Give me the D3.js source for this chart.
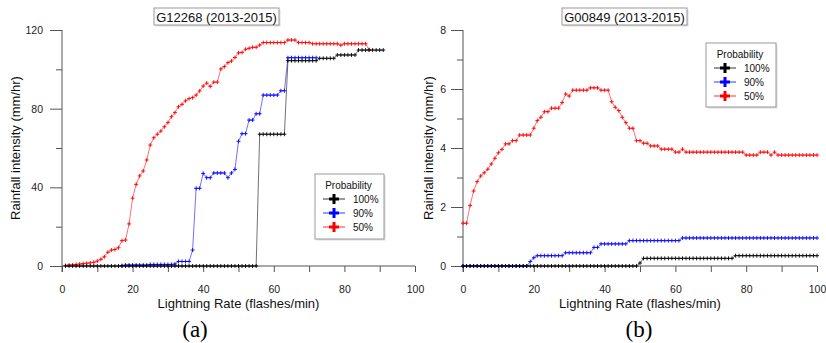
<!DOCTYPE html>
<html><head><meta charset="utf-8">
<script src="https://cdn.jsdelivr.net/npm/d3@7/dist/d3.min.js"></script>
<style>body{margin:0;background:#fff} svg{display:block}</style>
</head><body>
<svg id="c" width="826" height="343"></svg>
<script>
// ---------- DATA ----------
const seriesNames = ["100%", "90%", "50%"];
const seriesColors = ["#000000", "#0000ff", "#ff0000"];

// Panel (a): G12268 (2013-2015)  -- x = lightning rate (start + index)
const titleA = "G12268 (2013-2015)";
const a100Start = 1;
const a100 = [0,0,0,0,0,0,0,0,0,0, 0,0,0,0,0,0,0,0,0,0, 0,0,0,0,0,0,0,0,0,0,
  0,0,0,0,0,0,0,0,0,0, 0,0,0,0,0,0,0,0,0,0, 0,0,0,0,0,
  67,67,67,67,67,67,67,67,
  104.4,104.4,104.4,104.4,104.4,104.4,104.4,104.4,104.4,
  105.6,105.6,105.6,105.6,105.6,
  107.3,107.3,107.3,107.3,107.3,107.3,
  109.8,109.8,109.8,109.8,109.8,109.8,109.8,109.8];
const a90Start = 17;
const a90 = [0.2, 0.5,0.5,0.5,0.5,0.5,0.5,0.5, 0.8,0.8,0.8,0.8,0.8,0.8,0.8, 1.0,
  2.3,2.3,2.3,2.3, 8.1, 39.5,39.5, 47.1,44.9,44.9,47.3,47.3,47.3,47.3,44.9,47.3,49.1,
  63.4,67.3,67.3,74.2,74.2,77.4,77.4, 86.9,86.9,86.9,86.9,86.9, 89.1,89.1,
  105.9,105.9,105.9,105.9,105.9,105.9,105.9,105.9,105.9];
const a50Start = 1;
const a50 = [0.3,0.5,0.6,0.8,1.0,1.2,1.4,1.6,1.9,2.5,
  3.4,4.7,7.0,8.1,8.4,9.3,12.9,13.2,21.4,34.5,
  41.5,45.8,48.3,53.9,61.5,65.2,67.0,68.6,70.8,72.9,
  75.9,78.0,81.0,82.2,84.0,85.1,85.6,86.9,89.0,91.5,
  93.0,91.3,93.5,93.5,100.2,101.4,103.4,104.2,106.0,108.4,
  108.6,110.2,110.7,111.2,111.2,112.3,113.6,113.6,113.6,113.6,
  113.6,113.6,113.6,114.9,114.9,114.9,113.6,113.6,113.6,113.6,
  113.0,113.0,113.0,113.0,113.0,113.0,113.0,113.0,112.3,113.0,
  113.0,113.0,113.0,113.0,113.0,113.0,110.0];
const aXTicks = [0,20,40,60,80,100];
const aXMinor = [10,30,50,70,90];
const aYTicks = [0,40,80,120];
const aYMinor = [20,60,100];

// Panel (b): G00849 (2013-2015)
const titleB = "G00849 (2013-2015)";
const b100Start = 0;
const b100 = [0,0,0,0,0,0,0,0,0,0, 0,0,0,0,0,0,0,0,0,0, 0,0,0,0,0,0,0,0,0,0,
  0,0,0,0,0,0,0,0,0,0, 0,0,0,0,0,0,0,0,0,0,
  0.1,
  0.26,0.26,0.26,0.26,0.26,0.26,0.26,0.26,0.26,0.26,0.26,0.26,0.26,
  0.26,0.26,0.26,0.26,0.26,0.26,0.26,0.26,0.26,0.26,0.26,0.26,0.26,
  0.35,0.35,0.35,0.35,0.35,0.35,0.35,0.35,0.35,0.35,0.35,0.35,
  0.35,0.35,0.35,0.35,0.35,0.35,0.35,0.35,0.35,0.35,0.35,0.35];
const b90Start = 0;
const b90 = [0,0,0,0,0,0,0,0,0,0, 0,0,0,0,0,0,0,0,0,
  0.15, 0.28,
  0.35,0.35,0.35,0.35,0.35,0.35,0.35,0.35,
  0.45,0.45,0.45,0.45,0.45,0.45,0.45,0.45,
  0.63,0.63,
  0.75,0.75,0.75,0.75,0.75,0.75,0.75,0.75,
  0.86,0.86,0.86,0.86,0.86,0.86,0.86,0.86,0.86,0.86,0.86,0.86,0.86,0.86,0.86,
  0.95,0.95,0.95,0.95,0.95,0.95,0.95,0.95,0.95,0.95,0.95,0.95,0.95,
  0.95,0.95,0.95,0.95,0.95,0.95,0.95,0.95,0.95,0.95,0.95,0.95,0.95,
  0.95,0.95,0.95,0.95,0.95,0.95,0.95,0.95,0.95,0.95,0.95,0.95,0.95];
const b50Start = 0;
const b50 = [1.45,1.45,2.05,2.54,2.86,3.05,3.16,3.28,3.46,3.65,
  3.84,3.95,4.14,4.14,4.25,4.25,4.44,4.44,4.44,4.44,
  4.67,4.93,5.04,5.23,5.23,5.35,5.35,5.35,5.54,5.83,
  5.76,5.96,5.96,5.96,5.96,5.96,6.04,6.04,6.04,5.96,
  5.96,5.96,5.57,5.38,5.27,5.04,4.86,4.67,4.67,4.25,
  4.25,4.16,4.16,4.07,4.07,4.07,3.96,3.96,3.96,3.96,
  3.86,3.86,3.96,3.86,3.86,3.86,3.86,3.86,3.86,3.86,
  3.86,3.86,3.86,3.86,3.86,3.86,3.86,3.86,3.86,3.86,
  3.76,3.76,3.76,3.76,3.86,3.86,3.86,3.76,3.86,3.76,
  3.76,3.76,3.76,3.76,3.76,3.76,3.76,3.76,3.76,3.76,3.76];
const bXTicks = [0,20,40,60,80,100];
const bXMinor = [10,30,50,70,90];
const bYTicks = [0,2,4,6,8];
const bYMinor = [1,3,5,7];

const xLabel = "Lightning Rate (flashes/min)";
const yLabel = "Rainfall intensity (mm/hr)";
const legendTitle = "Probability";

// ---------- DRAW ----------
const SANS = "'Liberation Sans', Arial, sans-serif";
const SERIF = "'Liberation Serif', 'Times New Roman', serif";
const AXIS = "#555";
const svg = d3.select("#c");

function toPts(start, vals){ return vals.map((v,i)=>[start+i, v]); }

function drawPanel(p){
  const x = d3.scaleLinear().domain([0,100]).range(p.xr);
  const y = d3.scaleLinear().domain(p.yd).range([266,30]);
  const g = svg.append("g");

  const yMin = g.append("g").attr("transform",`translate(${p.xr[0]},0)`)
    .call(d3.axisLeft(y).tickValues(p.yMinor).tickSize(6).tickFormat(""));
  const yMaj = g.append("g").attr("transform",`translate(${p.xr[0]},0)`)
    .call(d3.axisLeft(y).tickValues(p.yTicks).tickSize(12).tickPadding(p.yPad).tickFormat(d3.format("d")));
  [yMin,yMaj].forEach(a=>{a.select(".domain").remove(); a.selectAll("line").attr("stroke",AXIS);});
  yMaj.selectAll("text").attr("font-family",SANS).attr("font-size",10.5).attr("fill","#222");

  const xMin = g.append("g").attr("transform","translate(0,266)")
    .call(d3.axisBottom(x).tickValues(p.xMinor).tickSize(6).tickFormat(""));
  const xMaj = g.append("g").attr("transform","translate(0,266)")
    .call(d3.axisBottom(x).tickValues(p.xTicks).tickSize(6).tickPadding(14).tickFormat(d3.format("d")));
  [xMin,xMaj].forEach(a=>{a.select(".domain").remove(); a.selectAll("line").attr("stroke",AXIS);});
  xMaj.selectAll("text").attr("font-family",SANS).attr("font-size",10.5).attr("fill","#222");

  g.append("line").attr("x1",x(0)).attr("x2",x(0)).attr("y1",y(p.yd[1])).attr("y2",272)
    .attr("stroke",AXIS).attr("stroke-width",1);
  g.append("line").attr("x1",x(0)).attr("x2",x(100)).attr("y1",y(0)).attr("y2",y(0))
    .attr("stroke",AXIS).attr("stroke-width",1);

  const line = d3.line().x(d=>x(d[0])).y(d=>y(d[1]));
  [2,1,0].forEach(k=>{
    const pts = p.series[k];
    const col = seriesColors[k];
    g.append("path").datum(pts).attr("d",line).attr("fill","none")
      .attr("stroke",col).attr("stroke-width",0.8).attr("stroke-opacity",0.7);
    g.append("path").attr("d", pts.map(d=>{
        const cx=x(d[0]), cy=y(d[1]);
        return `M${cx-2},${cy}H${cx+2}M${cx},${cy-2}V${cy+2}`;
      }).join(""))
      .attr("stroke",col).attr("stroke-width",0.9).attr("fill","none");
  });

  const tb = p.titleBox;
  g.append("rect").attr("x",tb[0]+1.5).attr("y",tb[1]+1.5).attr("width",tb[2]).attr("height",tb[3]).attr("fill","#ddd");
  g.append("rect").attr("x",tb[0]).attr("y",tb[1]).attr("width",tb[2]).attr("height",tb[3])
    .attr("fill","#fff").attr("stroke","#999").attr("stroke-width",1);
  g.append("text").attr("x",tb[0]+tb[2]/2).attr("y",tb[1]+13.5).attr("text-anchor","middle")
    .attr("font-family",SANS).attr("font-size",13).attr("fill","#111").text(p.title);

  g.append("text").attr("x",(p.xr[0]+p.xr[1])/2).attr("y",308).attr("text-anchor","middle")
    .attr("font-family",SANS).attr("font-size",13).attr("fill","#111").text(xLabel);
  g.append("text").attr("transform",`translate(${p.yLabelX},148) rotate(-90)`).attr("text-anchor","middle")
    .attr("font-family",SANS).attr("font-size",13).attr("fill","#111").text(yLabel);

  g.append("text").attr("x",p.panelX).attr("y",337).attr("text-anchor","middle")
    .attr("font-family",SERIF).attr("font-size",23).attr("fill","#000").text(p.panel);

  const L = p.legend;
  g.append("rect").attr("x",L[0]+1.5).attr("y",L[1]+1.5).attr("width",L[2]).attr("height",L[3]).attr("fill","#ddd");
  g.append("rect").attr("x",L[0]).attr("y",L[1]).attr("width",L[2]).attr("height",L[3])
    .attr("fill","#fff").attr("stroke","#999").attr("stroke-width",1);
  g.append("text").attr("x",L[0]+L[2]/2-1).attr("y",L[1]+15).attr("text-anchor","middle")
    .attr("font-family",SANS).attr("font-size",10).attr("fill","#111").text(legendTitle);
  seriesNames.forEach((nm,i)=>{
    const cy = L[1]+25+i*14, cx = L[0]+19;
    const col = seriesColors[i];
    g.append("line").attr("x1",cx-11).attr("x2",cx+11).attr("y1",cy).attr("y2",cy)
      .attr("stroke",col).attr("stroke-width",1).attr("stroke-opacity",0.8);
    g.append("path").attr("d",`M${cx-5},${cy}H${cx+5}M${cx},${cy-5}V${cy+5}`)
      .attr("stroke",col).attr("stroke-width",3);
    g.append("text").attr("x",L[0]+38).attr("y",cy+3.5)
      .attr("font-family",SANS).attr("font-size",10).attr("fill","#111").text(nm);
  });
}

drawPanel({
  xr:[62,415], yd:[0,120], yTicks:aYTicks, yMinor:aYMinor, xTicks:aXTicks, xMinor:aXMinor, yPad:7,
  series:[toPts(a100Start,a100), toPts(a90Start,a90), toPts(a50Start,a50)],
  title:titleA, titleBox:[154,8,125,17], yLabelX:20, panel:"(a)", panelX:195,
  legend:[315,174,69,65]
});
drawPanel({
  xr:[463,817], yd:[0,8], yTicks:bYTicks, yMinor:bYMinor, xTicks:bXTicks, xMinor:bXMinor, yPad:5,
  series:[toPts(b100Start,b100), toPts(b90Start,b90), toPts(b50Start,b50)],
  title:titleB, titleBox:[562,8,125,17], yLabelX:433, panel:"(b)", panelX:639,
  legend:[706,43,70,64]
});
</script>
</body></html>
